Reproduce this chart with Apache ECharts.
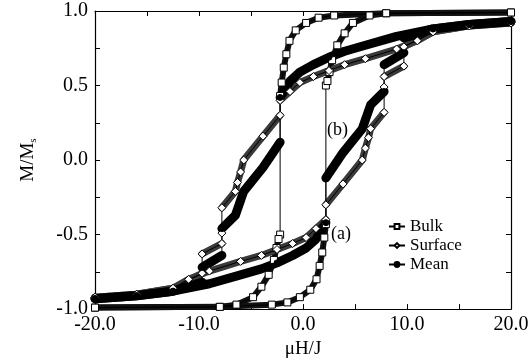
<!DOCTYPE html>
<html>
<head>
<meta charset="utf-8">
<script src="https://cdn.jsdelivr.net/npm/echarts@6/dist/echarts.min.js"></script>
<style>
  html, body { margin: 0; padding: 0; background: #fff; }
  #chart { width: 532px; height: 364px; }
</style>
</head>
<body>
<div id="chart"></div>
<script>
// Hysteresis loops M/Ms vs field.
// Each branch is listed point by point; equal H on consecutive points = a jump.

const bulkDown = [[20, 0.99], [8, 0.985], [3, 0.97], [1.5, 0.955], [0.3, 0.92],
  [-0.7, 0.87], [-1.3, 0.8], [-1.6, 0.71], [-1.85, 0.62], [-2.05, 0.52], [-2.2, 0.43],
  [-2.2, -0.5], [-2.35, -0.53], [-2.55, -0.59], [-2.8, -0.67], [-3.3, -0.77], [-4, -0.85],
  [-4.8, -0.92], [-6.4, -0.97], [-8, -0.985], [-20, -0.99]];
const bulkUp = [[-20, -0.99], [-8, -0.985], [-3, -0.97], [-1.5, -0.955], [-0.3, -0.92],
  [0.7, -0.87], [1.3, -0.8], [1.6, -0.71], [1.85, -0.62], [2.05, -0.52], [2.2, -0.43],
  [2.2, 0.5], [2.35, 0.53], [2.55, 0.59], [2.8, 0.67], [3.3, 0.77], [4, 0.85],
  [4.8, 0.92], [6.4, 0.97], [8, 0.985], [20, 0.99]];

const surfaceDown = [[20, 0.92], [16, 0.9], [12.5, 0.86], [11, 0.8], [9, 0.745], [6, 0.68],
  [4, 0.64], [2.5, 0.6], [1, 0.56], [-0.3, 0.52], [-1.25, 0.46], [-2.2, 0.4],
  [-2.2, 0.3], [-3.85, 0.16], [-5.7, 0], [-6, -0.08], [-6.3, -0.15], [-6.5, -0.21], [-7.8, -0.32],
  [-7.8, -0.49], [-7.8, -0.56], [-9.7, -0.63],
  [-9.7, -0.76], [-12.5, -0.86], [-16, -0.9], [-20, -0.92]];
const surfaceUp = [[-20, -0.92], [-16, -0.9], [-12.5, -0.86], [-11, -0.8], [-9, -0.745], [-6, -0.68],
  [-4, -0.64], [-2.5, -0.6], [-1, -0.56], [0.3, -0.52], [1.25, -0.46], [2.2, -0.4],
  [2.2, -0.3], [3.85, -0.16], [5.7, 0], [6, 0.08], [6.3, 0.15], [6.5, 0.21], [7.8, 0.32],
  [7.8, 0.49], [7.8, 0.56], [9.7, 0.63],
  [9.7, 0.76], [12.5, 0.86], [16, 0.9], [20, 0.92]];

const meanDown = [[20, 0.93], [16, 0.91], [12.5, 0.88], [9, 0.83], [6, 0.77], [4, 0.73],
  [2.5, 0.69], [1, 0.64], [-0.3, 0.59], [-1.25, 0.53], [-2.2, 0.42],
  [-2.2, 0.12], [-3.85, -0.05], [-5.7, -0.21], [-6, -0.27], [-6.3, -0.33], [-6.5, -0.37], [-7.8, -0.46],
  [-7.8, -0.64], [-9.7, -0.72],
  [-9.7, -0.82], [-12.5, -0.88], [-16, -0.91], [-20, -0.93]];
const meanUp = [[-20, -0.93], [-16, -0.91], [-12.5, -0.88], [-9, -0.83], [-6, -0.77], [-4, -0.73],
  [-2.5, -0.69], [-1, -0.64], [0.3, -0.59], [1.25, -0.53], [2.2, -0.42],
  [2.2, -0.12], [3.85, 0.05], [5.7, 0.21], [6, 0.27], [6.3, 0.33], [6.5, 0.37], [7.8, 0.46],
  [7.8, 0.64], [9.7, 0.72],
  [9.7, 0.82], [12.5, 0.88], [16, 0.91], [20, 0.93]];

const seriesNames = ['Bulk', 'Surface', 'Mean'];
const xTicks = [-20, -10, 0, 10, 20];
const yTicks = [-1, -0.5, 0, 0.5, 1];

const SERIF = 'Liberation Serif, Times New Roman, serif';

const looks = {
  Bulk: { loop: bulkDown.concat(bulkUp), symbol: 'rect', size: 7, fill: '#fff', band: '#111', bandWidth: 6 },
  Surface: { loop: surfaceDown.concat(surfaceUp), symbol: 'diamond', size: 8, fill: '#fff', band: '#3a3a3a', bandWidth: 7 },
  Mean: { loop: meanDown.concat(meanUp), symbol: 'circle', size: 6, fill: '#000', band: '#000', bandWidth: 9 },
};

function splitSegments(points) {
  // Cut a branch wherever two neighbours share H (a jump): the band skips it.
  const segs = [];
  let cur = [points[0]];
  for (let i = 1; i < points.length; i++) {
    if (points[i][0] === points[i - 1][0]) {
      if (cur.length > 1) segs.push(cur);
      cur = [points[i]];
    } else {
      cur.push(points[i]);
    }
  }
  if (cur.length > 1) segs.push(cur);
  return segs;
}

const series = [];
seriesNames.forEach((name) => {
  const look = looks[name];
  // thick bands where markers pile up densely
  splitSegments(look.loop).forEach((seg, i) => {
    series.push({
      name: name + ' band ' + i,
      type: 'line',
      data: seg,
      symbol: 'none',
      silent: true,
      z: 1,
      lineStyle: { color: look.band, width: look.bandWidth, cap: 'round', join: 'round' },
    });
  });
  // thin connecting line with the individual markers
  series.push({
    name,
    type: 'line',
    data: look.loop,
    symbol: look.symbol,
    symbolSize: look.size,
    showAllSymbol: true,
    z: 3,
    lineStyle: { color: '#000', width: 1 },
    itemStyle: { color: look.fill, borderColor: '#000', borderWidth: 1 },
  });
});

const axisLine = { show: true, onZero: false, lineStyle: { color: '#000', width: 1.2 } };
const tick = { show: true, inside: true, length: 5, lineStyle: { color: '#000' } };
const minor = { show: true, splitNumber: 2, length: 5, lineStyle: { color: '#000' } };
const labelFont = { color: '#000', fontFamily: SERIF, fontSize: 20 };

const chart = echarts.init(document.getElementById('chart'), null, { renderer: 'canvas' });
chart.setOption({
  animation: false,
  backgroundColor: '#fff',
  grid: { left: 95, right: 21, top: 11, bottom: 54, containLabel: false },
  legend: {
    data: seriesNames,
    orient: 'vertical',
    left: 383,
    top: 213,
    itemWidth: 16,
    itemHeight: 6,
    itemGap: 2,
    textStyle: { color: '#000', fontFamily: SERIF, fontSize: 17 },
  },
  xAxis: [
    {
      type: 'value', position: 'bottom',
      min: xTicks[0], max: xTicks[xTicks.length - 1], interval: 10,
      axisLine, axisTick: tick, minorTick: minor, splitLine: { show: false },
      axisLabel: { ...labelFont, margin: 6, formatter: (v) => v.toFixed(1) },
      name: 'μH/J', nameLocation: 'middle', nameGap: 25,
      nameTextStyle: { color: '#000', fontFamily: SERIF, fontSize: 19 },
    },
    {
      type: 'value', position: 'top',
      min: xTicks[0], max: xTicks[xTicks.length - 1], interval: 10,
      axisLine, axisTick: tick, minorTick: minor, splitLine: { show: false },
      axisLabel: { show: false },
    },
  ],
  yAxis: [
    {
      type: 'value', position: 'left',
      min: yTicks[0], max: yTicks[yTicks.length - 1], interval: 0.5,
      axisLine, axisTick: tick, minorTick: minor, splitLine: { show: false },
      axisLabel: { ...labelFont, margin: 7, formatter: (v) => v.toFixed(1) },
      name: '{m|M/M}{s|s}', nameLocation: 'middle', nameGap: 56, nameRotate: 90,
      nameTextStyle: {
        color: '#000', fontFamily: SERIF, fontSize: 19,
        rich: {
          m: { fontFamily: SERIF, fontSize: 19, color: '#000' },
          s: { fontFamily: SERIF, fontSize: 11, color: '#000', padding: [10, 0, 0, 0] },
        },
      },
    },
    {
      type: 'value', position: 'right',
      min: yTicks[0], max: yTicks[yTicks.length - 1], interval: 0.5,
      axisLine, axisTick: tick, minorTick: minor, splitLine: { show: false },
      axisLabel: { show: false },
    },
  ],
  graphic: [
    { type: 'text', left: 327, top: 121, style: { text: '(b)', font: '18px ' + SERIF, fill: '#000' } },
    { type: 'text', left: 331, top: 225, style: { text: '(a)', font: '18px ' + SERIF, fill: '#000' } },
  ],
  series,
});
</script>
</body>
</html>
